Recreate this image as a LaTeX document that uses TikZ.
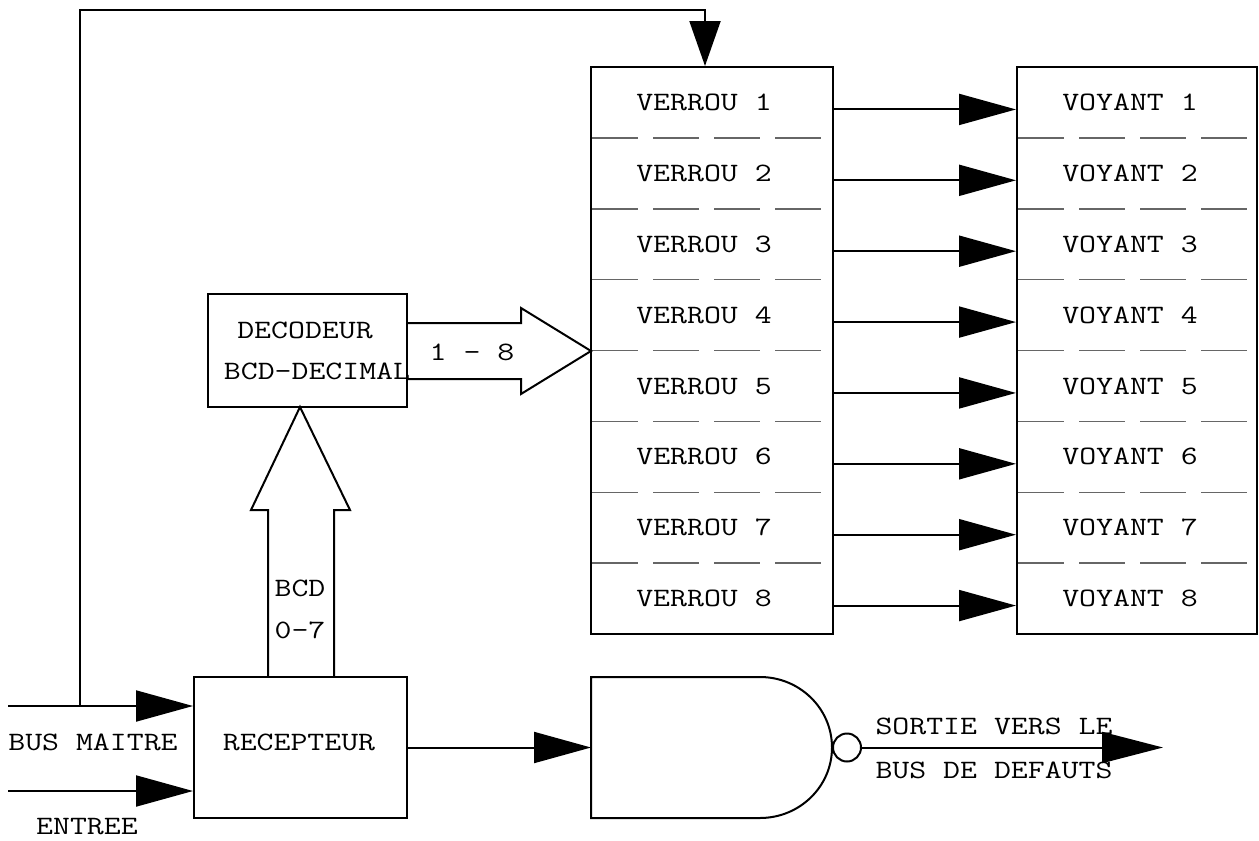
\documentclass[tikz,border=0pt]{standalone}
\usepackage{fontspec}
\usetikzlibrary{arrows.meta,calc}
\newcommand\wtext[1]{\scalebox{1.24}[1]{#1}}
\begin{document}
\begin{tikzpicture}[x=1pt,y=-1pt,line width=2pt,
  lbl/.style={font=\ttfamily\fontsize{26.5}{28}\selectfont, inner sep=0pt},
  blk/.style={draw, line width=2pt, inner sep=0pt},
  sepline/.style={draw=black!60, line width=1.5pt, dash pattern=on 46pt off 15pt},
  bigtip/.style={-{Triangle[length=57pt,width=31pt]}},
]
\fill[white] (0,0) rectangle (1259,841);
\useasboundingbox (0,0) rectangle (1259,841);

% boxes
\node[blk, minimum width=242pt, minimum height=567pt] (verrou) at (712,350.5) {};
\node[blk, minimum width=240pt, minimum height=567pt] (voyant) at (1137,350.5) {};
\node[blk, minimum width=199pt, minimum height=113pt] (dec) at (307.5,350.5) {};
\node[blk, minimum width=213pt, minimum height=141pt] (rec) at (300.5,747.5) {};

% separators
\foreach \k in {1,...,7} {
  \pgfmathsetmacro\ys{67+70.875*\k}
  \draw[sepline] (592,\ys) -- (823,\ys);
  \draw[sepline] (1018,\ys) -- (1250,\ys);
}

% rows and arrows
\foreach \i in {1,...,8} {
  \pgfmathsetmacro\yc{67+70.875*(\i-0.5)}
  \node[lbl] (v\i) at (704,\yc) {\wtext{VERROU \i}};
  \node[lbl] (w\i) at (1130,\yc) {\wtext{VOYANT \i}};
  \draw[bigtip] ($(verrou.east |- v\i)+(0,7)$) -- ($(voyant.west |- v\i)+(0,7)$);
}

% texts
\node[lbl] (dec1) at (305,330) {\wtext{DECODEUR}};
\node[lbl] (dec2) at (317,371) {\wtext{BCD-DECIMAL}};
\node[lbl] (rect) at (299,742) {\wtext{RECEPTEUR}};
\node[lbl] (busl) at (93,742) {\wtext{BUS MAITRE}};
\node[lbl] (entl) at (87,827) {\wtext{ENTREE}};
\node[lbl] (l18) at (472,352) {\wtext{1 - 8}};
\node[lbl] (bcdl) at (300,588) {\wtext{BCD}};
\node[lbl] (l07) at (300,630) {\wtext{0-7}};
\node[lbl] (sortl) at (994,726) {\wtext{SORTIE VERS LE}};
\node[lbl] (defl) at (994,770) {\wtext{BUS DE DEFAUTS}};

% hollow arrows
\draw[line join=miter] (268,677) -- (268,510) -- (251,510) -- (300,407) -- (350,510) -- (334,510) -- (334,677);
\draw[line join=miter] (407,323) -- (521,323) -- (521,308) -- (591,351) -- (521,394) -- (521,379) -- (407,379);

% inputs
\coordinate (bmin) at (8,706);
\coordinate (enin) at (8,791);
\coordinate (junc) at (80,706);
\coordinate (topc) at (705,10);
\draw[bigtip] (bmin) -- (rec.west |- bmin);
\draw[bigtip] (enin) -- (rec.west |- enin);
\draw[-{Triangle[length=45pt,width=31pt]}] (junc) |- (topc) -- ($(verrou.north)+(-7,0)$);

% NAND gate
\draw[line join=miter] (591,677) -- (760,677) arc[start angle=-90,end angle=90,x radius=72,y radius=70.5] -- (591,818) -- cycle;
\coordinate (gin) at (591,747.5);
\node[draw, circle, minimum size=28pt, inner sep=0pt, line width=2pt] (bub) at (847,747.5) {};
\coordinate (outc) at (1163,747.5);
\draw[bigtip] (rec.east) -- (gin);
\draw[-{Triangle[length=61pt,width=31pt]}] (bub.east) -- (outc);
\end{tikzpicture}
\end{document}
